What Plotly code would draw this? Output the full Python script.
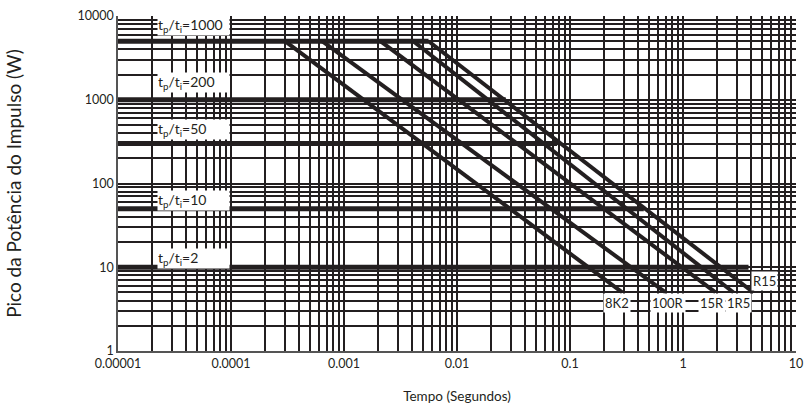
import numpy as np
import plotly.graph_objects as go

# ---------------- data ----------------
x_tick_vals = [1e-5, 1e-4, 1e-3, 1e-2, 1e-1, 1, 10]
x_tick_text = ["0.00001", "0.0001", "0.001", "0.01", "0.1", "1", "10"]
y_tick_vals = [1, 10, 100, 1000, 10000]
y_tick_text = ["1", "10", "100", "1000", "10000"]

# energy-limit lines of each resistor value (start on the 5000 W line, end at 5 W)
curve_names = ["8K2", "100R", "15R", "1R5", "R15"]
curve_t_start = [3.0e-4, 6.4e-4, 2.1e-3, 4.1e-3, 5.6e-3]
curve_t_end = [0.29, 0.70, 1.94, 2.8, 4.2]
curve_p_start = [5000, 5000, 5000, 5000, 5000]
curve_p_end = [5, 5, 5, 5, 5]

# t_p / t_i pulse ratio lines
ratio_labels = ["1000", "200", "50", "10", "2"]
ratio_power = [5000, 1000, 300, 50, 10]
ratio_t_start = [1e-5, 1e-5, 1e-5, 1e-5, 1e-5]
ratio_t_end = [5.6e-3, 0.027, 0.077, 0.45, 3.8]

# ---------------- styling ----------------
INK = "#231f20"
FONT = "Lato"

fig = go.Figure()

for p, t0, t1 in zip(ratio_power, ratio_t_start, ratio_t_end):
    fig.add_trace(go.Scatter(x=[t0, t1], y=[p, p], mode="lines",
                             line=dict(color=INK, width=5), showlegend=False,
                             hoverinfo="skip"))

for name, t0, t1, p0, p1 in zip(curve_names, curve_t_start, curve_t_end,
                                curve_p_start, curve_p_end):
    fig.add_trace(go.Scatter(x=[t0, t1], y=[p0, p1], mode="lines", name=name,
                             line=dict(color=INK, width=4), showlegend=False,
                             hoverinfo="skip"))

annotations = []
ratio_yshift = [16, 17, 14, 8, 9]
for lab, p, ys in zip(ratio_labels, ratio_power, ratio_yshift):
    annotations.append(dict(
        xref="paper", yref="y", x=0.0575, y=np.log10(p), xanchor="left",
        yanchor="middle", yshift=ys, showarrow=False, align="left",
        text="t<sub>p</sub>/t<sub>i</sub>=" + lab, width=71, borderpad=0,
        bgcolor="white", font=dict(family=FONT, size=14, color=INK)))

lab_xshift = [-5, 2, -4, 5, 11]
lab_yshift = [-11, -11, -11, -11, 11]
for name, t1, p1, xs, ys in zip(curve_names, curve_t_end, curve_p_end,
                                lab_xshift, lab_yshift):
    annotations.append(dict(
        xref="x", yref="y", x=np.log10(t1), y=np.log10(p1), xanchor="center",
        yanchor="middle", xshift=xs, yshift=ys, showarrow=False, text=name,
        bgcolor="white", borderpad=1,
        font=dict(family=FONT, size=13, color=INK)))

grid = dict(showgrid=True, gridcolor=INK, gridwidth=1.6)
minor = dict(dtick="D1", showgrid=True, gridcolor=INK, gridwidth=1.6,
             ticks="")

fig.update_layout(
    width=806, height=407,
    margin=dict(l=118, r=10, t=16, b=56),
    paper_bgcolor="white", plot_bgcolor="white",
    font=dict(family=FONT, size=12, color=INK),
    annotations=annotations,
    xaxis=dict(type="log", range=[-5, 1], tickmode="array",
               tickvals=x_tick_vals, ticktext=x_tick_text,
               showline=True, linecolor="#555", linewidth=1.5,
               ticks="", zeroline=False, minor=minor, automargin=False,
               tickfont=dict(family=FONT, size=12.5, color=INK),
               title=dict(text="Tempo (Segundos)", standoff=22,
                          font=dict(family=FONT, size=13.5, color=INK)),
               **grid),
    yaxis=dict(type="log", range=[0, 4], tickmode="array",
               tickvals=y_tick_vals, ticktext=y_tick_text,
               showline=True, linecolor="#555", linewidth=1.5,
               ticks="", zeroline=False, minor=minor, automargin=False,
               tickfont=dict(family=FONT, size=12.5, color=INK),
               title=dict(text="Pico da Potência do Impulso (W)", standoff=51,
                          font=dict(family=FONT, size=19, color=INK)),
               **grid),
)

fig.write_html("out.html",
               config={"displayModeBar": False},
               post_script="document.body.style.margin='0';"
                           "document.body.style.padding='0';")
